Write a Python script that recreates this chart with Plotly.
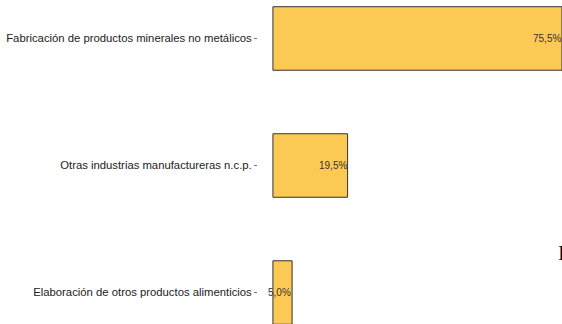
import plotly.graph_objects as go

# Datos
categorias = [
    'Fabricación de productos minerales no metálicos',
    'Otras industrias manufactureras n.c.p.',
    'Elaboración de otros productos alimenticios',
]
porcentajes = [75.5, 19.5, 5.0]
etiquetas = [f'{v:.1f}%'.replace('.', ',') for v in porcentajes]

fig = go.Figure()

fig.add_trace(
    go.Bar(
        x=porcentajes,
        y=categorias,
        orientation='h',
        width=0.5,
        marker=dict(color='#FCC955', line=dict(color='#333333', width=1)),
        hoverinfo='skip'
    )
)

# etiquetas de valor al final de cada barra
for cat, val, txt in zip(categorias, porcentajes, etiquetas):
    fig.add_annotation(
        x=val, y=cat, text=txt, showarrow=False,
        xanchor='right', yanchor='middle', xshift=1,
        font=dict(family='Liberation Sans, Arial', size=10, color='#333333')
    )

# glifo recortado en el borde derecho
fig.add_annotation(
    xref='paper', yref='paper', x=(556 - 258) / 304, y=1 - 253 / 324,
    text='I', showarrow=False, xanchor='left', yanchor='middle',
    font=dict(family='Liberation Serif, DejaVu Serif', size=21, color='#000000')
)

fig.update_layout(
    width=562,
    height=324,
    margin=dict(l=258, r=0, t=0, b=0),
    plot_bgcolor='white',
    paper_bgcolor='white',
    showlegend=False,
    font=dict(family='Liberation Sans, Arial', size=11, color='#333333')
)

fig.update_xaxes(range=[-3.9, 75.5], showticklabels=False, showgrid=False,
                 zeroline=False, showline=False, ticks='')
fig.update_yaxes(range=[2.248, -0.303], showgrid=False, zeroline=False,
                 showline=False, ticks='outside', ticklen=3, tickwidth=1,
                 tickcolor='#777777', tickfont=dict(size=11.3, color='#222222'))

# sin margen del body para que la figura ocupe toda la ventana
fig.write_html(
    'out.html',
    config={'displayModeBar': False},
    post_script="document.body.style.margin='0';document.body.style.overflow='hidden';"
)
